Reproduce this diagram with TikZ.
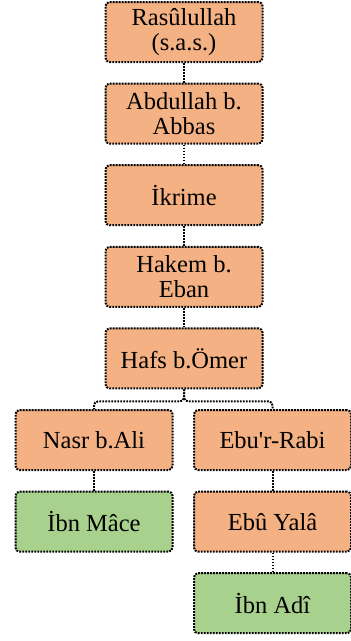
\documentclass[tikz,border=0pt]{standalone}
\usepackage{fontspec}
\setmainfont{Liberation Serif}
\usetikzlibrary{positioning}

\definecolor{raviorange}{HTML}{F4B183}
\definecolor{ravigreen}{HTML}{A9D18E}

\tikzstyle{ravi} = [draw=black, fill=raviorange, line width=2pt, dash pattern=on 1.8pt off 1.2pt,
    rectangle, rounded corners=4pt, minimum width=157pt, minimum height=60pt,
    inner sep=3pt, align=center, font=\fontsize{24.5}{25}\selectfont]
\tikzstyle{musannif} = [ravi, fill=ravigreen]
\tikzstyle{link} = [line width=2pt, dash pattern=on 1.8pt off 1.2pt]

\begin{document}
\begin{tikzpicture}[node distance=19.6pt]
\useasboundingbox (0,0) rectangle (351pt,-641pt);
\node [ravi] (rasul) at (184pt,-32pt) {Rasûlullah\\(s.a.s.)};
\node [ravi, below=of rasul] (abdullah) {Abdullah b.\\Abbas};
\node [ravi, below=of abdullah] (ikrime) {İkrime};
\node [ravi, below=of ikrime] (hakem) {Hakem b.\\Eban};
\node [ravi, below=of hakem] (hafs) {Hafs b.Ömer};
\node [ravi] (nasr) at (94pt,-440pt) {Nasr b.Ali};
\node [ravi] (ebur) at (272.5pt,-440pt) {Ebu\textquotesingle r-Rabi};
\node [musannif, below=of nasr] (ibnmace) {İbn Mâce};
\node [ravi, below=of ebur] (ebuyala) {Ebû Yalâ};
\node [musannif, below=of ebuyala] (ibnadi) {İbn Adî};

\draw [link] (rasul) -- (abdullah);
\draw [link] (abdullah) -- (ikrime);
\draw [link] (ikrime) -- (hakem);
\draw [link] (hakem) -- (hafs);
\draw [link, rounded corners=4pt] (hafs.south) -- ++(0,-12pt) -| (nasr.north);
\draw [link, rounded corners=4pt] (hafs.south) -- ++(0,-12pt) -| (ebur.north);
\draw [link] (nasr) -- (ibnmace);
\draw [link] (ebur) -- (ebuyala);
\draw [link] (ebuyala) -- (ibnadi);
\end{tikzpicture}
\end{document}
